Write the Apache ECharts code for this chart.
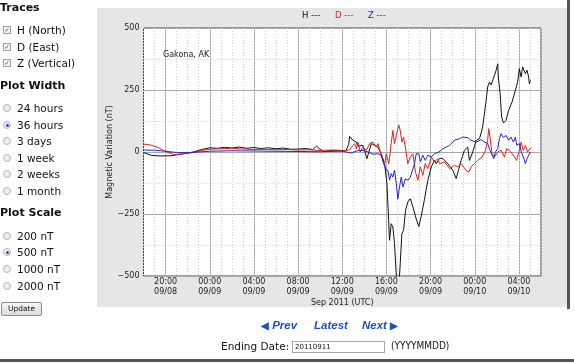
<!DOCTYPE html>
<html><head><meta charset="utf-8">
<script src="https://cdn.jsdelivr.net/npm/echarts@6/dist/echarts.min.js"></script>
<style>
html,body{margin:0;padding:0;width:574px;height:363px;overflow:hidden;background:#fff;font-family:'DejaVu Sans',Verdana,sans-serif;color:#111;}
#chart{position:absolute;left:0;top:0;width:574px;height:363px;}
.side{position:absolute;left:0;top:0;width:96px;height:330px;font-size:10.5px;}
.hd{position:absolute;left:0;font-weight:bold;font-size:11px;line-height:12px;white-space:nowrap;}
.row{position:absolute;left:3px;white-space:nowrap;line-height:12px;height:12px;}
.cb{position:absolute;left:0;top:2px;width:6px;height:6px;border:1px solid #a0a0a0;background:#f2f2f2;font-size:6px;line-height:6px;text-align:center;color:#2a3d7a;}
.rb{position:absolute;left:0;top:2px;width:6px;height:6px;border:1px solid #b5b5b5;border-radius:50%;background:#eee;}
.rb.on::after{content:'';position:absolute;left:1.5px;top:1.5px;width:3px;height:3px;border-radius:50%;background:#1f4f9a;}
.lbl{position:absolute;left:14px;top:0;}
.btn{position:absolute;left:1px;top:302px;width:39px;height:12px;border:1px solid #8c8c8c;border-radius:2px;background:linear-gradient(#f7f7f7,#dadada);font-size:7.5px;line-height:12px;text-align:center;}
.nav{position:absolute;top:319px;font-family:'Liberation Sans',Arial,sans-serif;font-weight:bold;font-style:italic;font-size:11.5px;color:#1d4fc4;line-height:13px;white-space:nowrap;}
.arr{font-style:normal;font-size:10px;}
.ed{position:absolute;left:221px;top:340px;font-size:10.5px;line-height:12px;white-space:nowrap;}
.inp{position:absolute;left:292px;top:341px;width:89px;height:10px;border:1px solid #a8a8a8;font-size:7px;line-height:10px;padding-left:2px;box-sizing:content-box;}
.fmt{position:absolute;left:391px;top:340px;font-size:10px;line-height:12px;font-family:'Liberation Sans Narrow','DejaVu Sans Condensed',sans-serif;}
</style></head>
<body>
<div id="chart"></div>
<div class="side">
  <div class="hd" style="top:2px">Traces</div>
  <div class="row" style="top:24px"><span class="cb">✓</span><span class="lbl">H (North)</span></div>
  <div class="row" style="top:41px"><span class="cb">✓</span><span class="lbl">D (East)</span></div>
  <div class="row" style="top:57px"><span class="cb">✓</span><span class="lbl">Z (Vertical)</span></div>
  <div class="hd" style="top:80px">Plot Width</div>
  <div class="row" style="top:102px"><span class="rb"></span><span class="lbl">24 hours</span></div>
  <div class="row" style="top:119px"><span class="rb on"></span><span class="lbl">36 hours</span></div>
  <div class="row" style="top:135px"><span class="rb"></span><span class="lbl">3 days</span></div>
  <div class="row" style="top:152px"><span class="rb"></span><span class="lbl">1 week</span></div>
  <div class="row" style="top:168px"><span class="rb"></span><span class="lbl">2 weeks</span></div>
  <div class="row" style="top:185px"><span class="rb"></span><span class="lbl">1 month</span></div>
  <div class="hd" style="top:207px">Plot Scale</div>
  <div class="row" style="top:230px"><span class="rb"></span><span class="lbl">200 nT</span></div>
  <div class="row" style="top:246px"><span class="rb on"></span><span class="lbl">500 nT</span></div>
  <div class="row" style="top:263px"><span class="rb"></span><span class="lbl">1000 nT</span></div>
  <div class="row" style="top:280px"><span class="rb"></span><span class="lbl">2000 nT</span></div>
  <div class="btn">Update</div>
</div>
<div class="nav" style="left:261px"><span class="arr">◀</span> Prev</div>
<div class="nav" style="left:314px">Latest</div>
<div class="nav" style="left:362px">Next <span class="arr">▶</span></div>
<div class="ed">Ending Date:</div>
<div class="inp">20110911</div>
<div class="fmt">(YYYYMMDD)</div>
<script>
// ---- data (times in UTC, 'MM-DD HH:MM', 2011) ----
const hTimes = ['09-08 18:00','09-08 18:45','09-08 19:30','09-08 20:30','09-08 21:30','09-08 22:30','09-08 23:15','09-09 00:00','09-09 00:40','09-09 01:20','09-09 02:00','09-09 02:40','09-09 03:20','09-09 04:00','09-09 04:40','09-09 05:20','09-09 06:00','09-09 06:40','09-09 07:20','09-09 08:00','09-09 08:40','09-09 09:20','09-09 09:40','09-09 10:00','09-09 10:25','09-09 11:00','09-09 11:40','09-09 12:20','09-09 12:35','09-09 12:40','09-09 12:58','09-09 13:17','09-09 13:25','09-09 13:52','09-09 14:14','09-09 14:38','09-09 15:14','09-09 15:32','09-09 15:50','09-09 16:03','09-09 16:12','09-09 16:17','09-09 16:26','09-09 16:35','09-09 16:44','09-09 16:57','09-09 17:08','09-09 17:15','09-09 17:24','09-09 17:33','09-09 17:44','09-09 17:56','09-09 18:10','09-09 18:24','09-09 18:42','09-09 18:56','09-09 19:09','09-09 19:27','09-09 19:45','09-09 20:04','09-09 20:21','09-09 20:31','09-09 20:49','09-09 21:07','09-09 21:34','09-09 22:01','09-09 22:19','09-09 22:46','09-09 23:04','09-09 23:22','09-09 23:31','09-09 23:49','09-10 00:08','09-10 00:26','09-10 00:43','09-10 01:02','09-10 01:10','09-10 01:20','09-10 01:29','09-10 01:47','09-10 01:56','09-10 02:05','09-10 02:08','09-10 02:18','09-10 02:26','09-10 02:36','09-10 02:50','09-10 03:04','09-10 03:23','09-10 03:41','09-10 03:53','09-10 04:02','09-10 04:12','09-10 04:20','09-10 04:35','09-10 04:44','09-10 04:53','09-10 04:57','09-10 05:02'];
const hValues = [-2,-14,-16,-15,-8,0,10,17,15,19,16,20,15,18,14,17,13,16,11,12,14,10,24,10,2,6,4,6,30,63,47,40,23,27,-27,34,20,-7,-47,-128,-275,-356,-289,-302,-370,-540,-540,-450,-329,-316,-235,-202,-188,-222,-270,-300,-260,-190,-114,-60,-34,-47,-25,-27,-47,-74,-107,-34,7,20,-34,0,47,54,101,208,262,282,270,309,329,356,302,235,141,117,128,168,202,249,282,336,302,343,316,330,302,275,289];

const dTimes = ['09-08 18:00','09-08 18:40','09-08 19:20','09-08 20:00','09-08 20:45','09-08 21:30','09-08 22:30','09-08 23:30','09-09 00:00','09-09 01:00','09-09 02:00','09-09 03:00','09-09 04:00','09-09 05:00','09-09 06:00','09-09 07:00','09-09 08:00','09-09 09:00','09-09 10:00','09-09 11:00','09-09 11:46','09-09 12:22','09-09 12:40','09-09 13:07','09-09 13:17','09-09 13:25','09-09 13:38','09-09 13:52','09-09 14:11','09-09 14:29','09-09 14:47','09-09 15:05','09-09 15:14','09-09 15:27','09-09 15:41','09-09 15:50','09-09 15:59','09-09 16:13','09-09 16:26','09-09 16:35','09-09 16:44','09-09 16:54','09-09 17:07','09-09 17:15','09-09 17:24','09-09 17:33','09-09 17:43','09-09 17:56','09-09 18:10','09-09 18:24','09-09 18:38','09-09 18:51','09-09 19:04','09-09 19:18','09-09 19:31','09-09 19:45','09-09 20:04','09-09 20:21','09-09 20:39','09-09 20:49','09-09 21:16','09-09 21:43','09-09 22:10','09-09 22:28','09-09 22:46','09-09 23:13','09-09 23:28','09-09 23:40','09-09 23:58','09-10 00:16','09-10 00:40','09-10 00:58','09-10 01:10','09-10 01:16','09-10 01:23','09-10 01:34','09-10 01:47','09-10 02:05','09-10 02:23','09-10 02:41','09-10 02:53','09-10 03:08','09-10 03:23','09-10 03:35','09-10 03:48','09-10 04:02','09-10 04:12','09-10 04:23','09-10 04:35','09-10 04:47','09-10 04:57','09-10 05:06'];
const dValues = [32,28,18,2,-10,-8,-2,8,11,13,15,12,10,11,9,10,8,9,6,8,7,5,10,34,13,40,0,20,7,34,40,20,34,0,-34,-54,-7,-47,34,87,34,67,110,87,40,60,20,-47,-20,-7,-81,-114,-60,-94,-47,-67,-20,-40,-27,-47,-40,-67,-54,-60,-47,-74,-81,-60,-47,-34,-20,7,47,94,60,-7,-20,0,7,-20,13,7,-7,-20,-34,7,40,7,27,0,7,18];

const zTimes = ['09-08 18:00','09-08 19:00','09-08 20:00','09-08 21:00','09-08 22:00','09-08 23:00','09-09 00:00','09-09 02:00','09-09 04:00','09-09 06:00','09-09 08:00','09-09 10:00','09-09 11:00','09-09 11:46','09-09 12:22','09-09 12:49','09-09 13:17','09-09 13:52','09-09 14:20','09-09 14:47','09-09 15:14','09-09 15:32','09-09 15:45','09-09 15:56','09-09 16:08','09-09 16:17','09-09 16:26','09-09 16:35','09-09 16:44','09-09 16:54','09-09 17:02','09-09 17:11','09-09 17:21','09-09 17:30','09-09 17:43','09-09 17:56','09-09 18:10','09-09 18:20','09-09 18:33','09-09 18:42','09-09 18:56','09-09 19:05','09-09 19:18','09-09 19:31','09-09 19:45','09-09 20:04','09-09 20:21','09-09 20:45','09-09 21:07','09-09 21:43','09-09 22:10','09-09 22:37','09-09 22:55','09-09 23:22','09-09 23:40','09-10 00:08','09-10 00:35','09-10 00:53','09-10 01:10','09-10 01:23','09-10 01:34','09-10 01:43','09-10 01:52','09-10 02:05','09-10 02:14','09-10 02:23','09-10 02:36','09-10 02:50','09-10 03:04','09-10 03:17','09-10 03:30','09-10 03:41','09-10 03:48','09-10 04:02','09-10 04:13','09-10 04:24','09-10 04:35','09-10 04:44','09-10 04:53','09-10 05:02'];
const zValues = [8,7,3,-2,-3,0,3,5,4,3,2,1,2,4,0,-4,4,7,0,-9,-7,-13,-47,-67,-74,-114,-87,-101,-74,-128,-190,-141,-101,-141,-108,-114,-101,-108,-47,-7,-7,-40,-13,-34,-13,-20,-7,0,13,27,47,54,60,58,47,40,50,40,34,7,-13,-27,0,13,54,74,58,67,47,60,40,60,27,34,0,-20,-47,-27,-20,0];

// x-axis tick labels (hours after 09/08 18:00 UTC)
const xTickHours = [2,6,10,14,18,22,26,30,34];
const xTickLabels = ['20:00\n09/08','00:00\n09/09','04:00\n09/09','08:00\n09/09','12:00\n09/09','16:00\n09/09','20:00\n09/09','00:00\n09/10','04:00\n09/10'];
const yTicks = [-500,-250,0,250,500];
const legendItems = ['H ---','D ---','Z ---'];
const colors = ['#111111','#e0201c','#2323c8'];

function toHours(s){
  const day = +s.slice(3,5), hh = +s.slice(6,8), mm = +s.slice(9,11);
  return (day-8)*24 + hh + mm/60 - 18;
}
function pairs(t, v){ return t.map((s,i)=>[toHours(s), v[i]]); }

const cats = [];
for (let i=0;i<=36;i++){ const k = xTickHours.indexOf(i); cats.push(k>=0 ? xTickLabels[k] : ''); }

const chart = echarts.init(document.getElementById('chart'), null, {renderer:'canvas'});
const font = 'DejaVu Sans';
chart.setOption({
  animation:false,
  backgroundColor:'transparent',
  textStyle:{fontFamily:font},
  graphic:[
    {type:'rect', z:-10, shape:{x:97,y:8,width:470,height:299}, style:{fill:'#e6e6e6'}},
    {type:'rect', z:-10, shape:{x:567,y:0,width:3,height:309}, style:{fill:'#555'}},
    {type:'rect', z:-10, shape:{x:0,y:359,width:574,height:3}, style:{fill:'#555'}},
    {type:'text', x:302, y:11, style:{text:legendItems[0], fill:colors[0], font:'8.5px '+font}},
    {type:'text', x:335, y:11, style:{text:legendItems[1], fill:colors[1], font:'8.5px '+font}},
    {type:'text', x:368, y:11, style:{text:legendItems[2], fill:colors[2], font:'8.5px '+font}},
    {type:'text', x:163, y:51, z:10, style:{text:'Gakona, AK', fill:'#222', font:'8px '+font}}
  ],
  grid:{left:143.5, right:33, top:28, bottom:87, show:true, backgroundColor:'#fff', borderColor:'#444', borderWidth:1, containLabel:false},
  xAxis:[
    {type:'category', data:cats, boundaryGap:false, position:'bottom',
     axisLine:{show:false}, axisTick:{show:false},
     axisLabel:{interval:0, margin:1, fontSize:8, lineHeight:10, color:'#222', fontFamily:font},
     splitLine:{show:true, interval:(i)=>xTickHours.indexOf(i)>=0, lineStyle:{color:'#a8a8a8', width:1}},
     name:'Sep 2011 (UTC)', nameLocation:'middle', nameGap:23, nameMoveOverlap:false,
     nameTextStyle:{fontSize:8, color:'#222', fontFamily:font}},
    {type:'category', data:cats, boundaryGap:false, position:'top',
     axisLine:{show:false}, axisTick:{show:false}, axisLabel:{show:false},
     splitLine:{show:true, interval:0, lineStyle:{color:'#cfcfcf', width:1, type:[1,2]}}},
    {type:'value', min:0, max:36, position:'bottom',
     axisLine:{show:false}, axisTick:{show:false}, axisLabel:{show:false}, splitLine:{show:false}}
  ],
  yAxis:[{
    type:'value', min:yTicks[0], max:yTicks[yTicks.length-1], interval:250,
    axisLine:{show:false}, axisTick:{show:false},
    axisLabel:{margin:4, fontSize:8, color:'#222', fontFamily:font, formatter:(v)=>String(v).replace('-','\u2212')},
    splitLine:{show:true, lineStyle:{color:'#a8a8a8', width:1}},
    minorTick:{show:false, splitNumber:2},
    minorSplitLine:{show:true, lineStyle:{color:'#cfcfcf', width:1, type:[1,2]}},
    name:'Magnetic Variation (nT)', nameLocation:'middle', nameGap:30, nameRotate:90, nameMoveOverlap:false,
    nameTextStyle:{fontSize:8, color:'#222', fontFamily:font}
  }],
  series:[
    {name:'H', type:'line', xAxisIndex:2, data:pairs(hTimes,hValues), showSymbol:false, lineStyle:{color:colors[0], width:1}, itemStyle:{color:colors[0]}},
    {name:'D', type:'line', xAxisIndex:2, data:pairs(dTimes,dValues), showSymbol:false, lineStyle:{color:colors[1], width:1}, itemStyle:{color:colors[1]}},
    {name:'Z', type:'line', xAxisIndex:2, data:pairs(zTimes,zValues), showSymbol:false, lineStyle:{color:colors[2], width:1}, itemStyle:{color:colors[2]}}
  ]
});
</script>
</body></html>
